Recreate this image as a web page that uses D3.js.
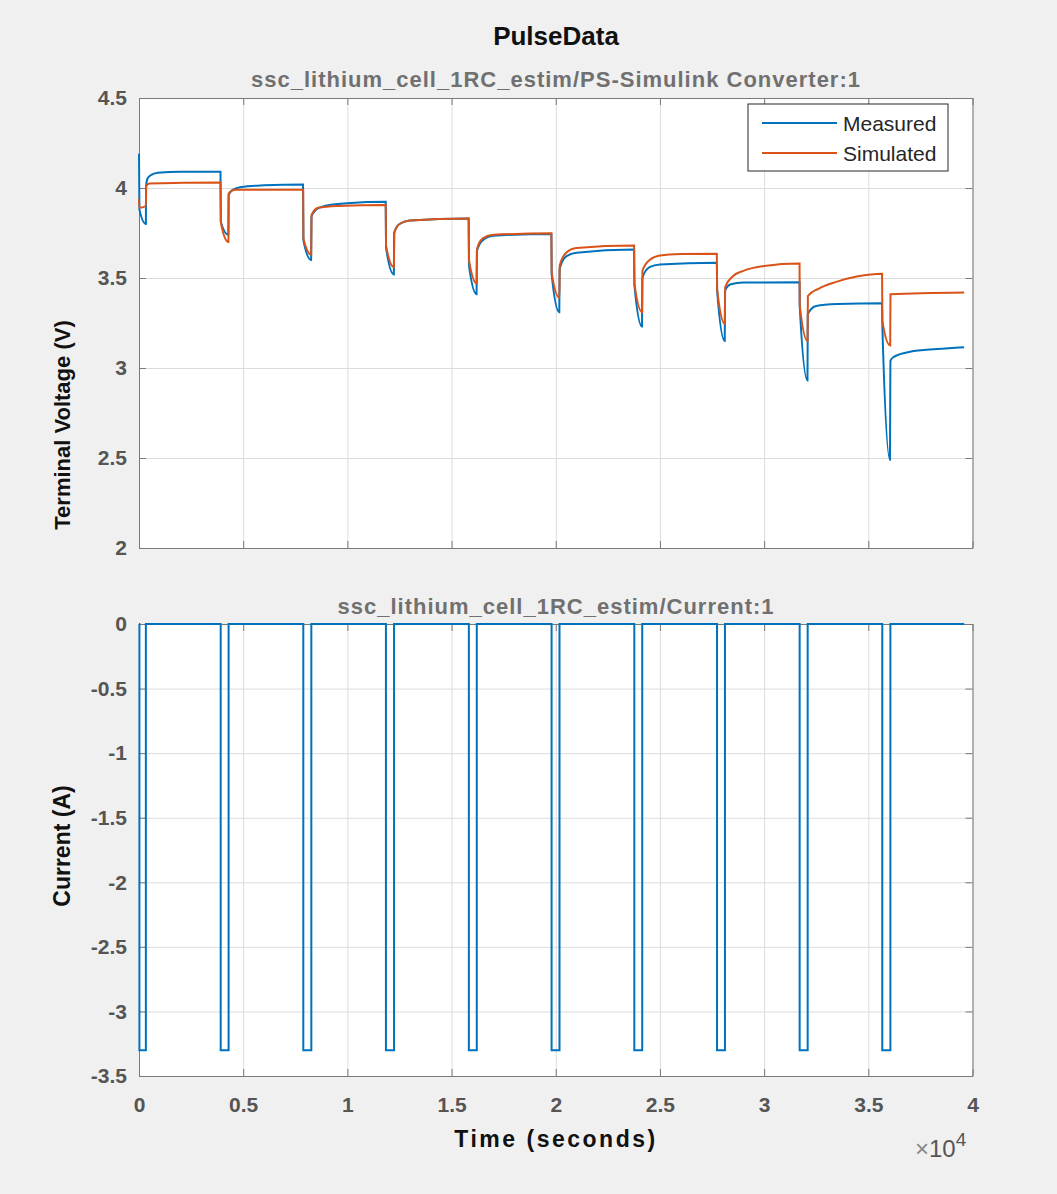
<!DOCTYPE html>
<html>
<head>
<meta charset="utf-8">
<script src="https://cdn.jsdelivr.net/npm/d3@7"></script>
<style>
  body { margin: 0; background: #f0f0f0; }
  svg { font-family: "Liberation Sans", Arial, Helvetica, sans-serif; }
  .tick text { fill: #555; font-weight: bold; font-size: 21px; }
  .axis path, .axis line { stroke: #7a7a7a; }
  .grid line { stroke: #dcdcdc; }
  .grid path { display: none; }
</style>
</head>
<body>
<div id="chart"></div>
<script>
// pulse timing (seconds)
var pulseStart = [20, 3920, 7885, 11850, 15830, 19800, 23770, 27740, 31705, 35670];
var pulseEnd   = [330, 4300, 8270, 12240, 16210, 20180, 24150, 28120, 32090, 36060];
var pulseCurrent = -3.3;
var endTime = 39600;

// terminal voltage [time, volts]
var measured = [
    [0, 4.19], [20, 3.88], [330, 3.80], [340, 4.01], [400, 4.05], [550, 4.07], [900, 4.085], [2000, 4.09], [3910, 4.09],
    [3930, 3.81], [4290, 3.74], [4300, 3.96], [4500, 3.99], [4900, 4.006], [6000, 4.015], [7870, 4.02],
    [7890, 3.71], [8260, 3.60], [8275, 3.84], [8500, 3.88], [8900, 3.90], [10000, 3.915], [11840, 3.923],
    [11855, 3.67], [12230, 3.52], [12245, 3.75], [12500, 3.80], [13000, 3.82], [15820, 3.83],
    [15835, 3.57], [16200, 3.41], [16215, 3.65], [16500, 3.71], [17000, 3.735], [19790, 3.745],
    [19805, 3.52], [20170, 3.31], [20185, 3.55], [20500, 3.62], [21000, 3.64], [23760, 3.658],
    [23775, 3.46], [24140, 3.23], [24155, 3.50], [24500, 3.56], [25000, 3.575], [27730, 3.585],
    [27745, 3.43], [28110, 3.15], [28125, 3.43], [28400, 3.465], [29000, 3.475], [31700, 3.476],
    [31710, 3.34], [32080, 2.93], [32095, 3.30], [32500, 3.345], [33500, 3.355], [35660, 3.36],
    [35675, 3.23], [36040, 2.49], [36060, 3.04], [36200, 3.06], [37000, 3.09], [38300, 3.105], [39600, 3.115]
];

var simulated = [
    [0, 3.94], [20, 3.89], [330, 3.90], [345, 4.01], [500, 4.025], [3910, 4.03],
    [3925, 3.81], [4290, 3.70], [4305, 3.97], [4600, 3.99], [7880, 3.99],
    [7890, 3.72], [8265, 3.63], [8280, 3.85], [8600, 3.89], [9500, 3.90], [11840, 3.905],
    [11855, 3.68], [12235, 3.56], [12250, 3.75], [12500, 3.80], [13000, 3.82], [15820, 3.83],
    [15835, 3.60], [16205, 3.47], [16220, 3.66], [16500, 3.72], [17000, 3.74], [19790, 3.748],
    [19805, 3.53], [20175, 3.39], [20190, 3.57], [20500, 3.64], [21000, 3.667], [23760, 3.68],
    [23775, 3.47], [24145, 3.31], [24160, 3.54], [24500, 3.60], [25000, 3.625], [26000, 3.633], [27730, 3.635],
    [27745, 3.44], [28115, 3.245], [28130, 3.45], [28500, 3.51], [29000, 3.54], [30000, 3.567], [31700, 3.58],
    [31710, 3.35], [32085, 3.15], [32100, 3.40], [32600, 3.44], [33500, 3.48], [34500, 3.51], [35660, 3.524],
    [35675, 3.26], [36050, 3.125], [36065, 3.41], [39600, 3.42]
];

var xTicks = [0, 5000, 10000, 15000, 20000, 25000, 30000, 35000, 40000];
var voltTicks = [2, 2.5, 3, 3.5, 4, 4.5];
var currentTicks = [-3.5, -3, -2.5, -2, -1.5, -1, -0.5, 0];

var width = 1057,
    height = 1194,
    blue = "#0072BD",
    orange = "#D95319";

// current trace as a square wave from the pulse table
var current = [[0, 0]];
pulseStart.forEach((s, i) => {
    current.push([s, 0], [s, pulseCurrent], [pulseEnd[i], pulseCurrent], [pulseEnd[i], 0]);
});
current.push([endTime, 0]);

var svg = d3.select("#chart")
    .append("svg")
    .attr("width", width)
    .attr("height", height);

svg.append("rect")
    .attr("width", width)
    .attr("height", height)
    .attr("fill", "#f0f0f0");

var x = d3.scaleLinear().domain([0, 40000]).range([139, 972.5]);
var yV = d3.scaleLinear().domain([2, 4.5]).range([548, 98]);
var yI = d3.scaleLinear().domain([-3.5, 0]).range([1076, 624]);

let fmt = d => String(d);

let drawPanel = (y, yTicks, showX) => {
    let [y0, y1] = y.range();  // bottom, top
    let [x0, x1] = x.range();
    let g = svg.append("g");

    g.append("rect")
        .attr("x", x0).attr("y", y1)
        .attr("width", x1 - x0).attr("height", y0 - y1)
        .attr("fill", "#fff");

    // grid
    g.append("g").attr("class", "grid")
        .attr("transform", `translate(0, ${y0})`)
        .call(d3.axisBottom(x).tickValues(xTicks).tickSize(-(y0 - y1)).tickFormat(""));
    g.append("g").attr("class", "grid")
        .attr("transform", `translate(${x0}, 0)`)
        .call(d3.axisLeft(y).tickValues(yTicks).tickSize(-(x1 - x0)).tickFormat(""));

    // box with inward ticks on all sides
    g.append("g").attr("class", "axis")
        .attr("transform", `translate(0, ${y0})`)
        .call(d3.axisBottom(x).tickValues(xTicks).tickSizeInner(-7).tickSizeOuter(0)
            .tickPadding(21).tickFormat(showX ? (d => fmt(d / 1e4)) : ""));
    g.append("g").attr("class", "axis")
        .attr("transform", `translate(0, ${y1})`)
        .call(d3.axisTop(x).tickValues(xTicks).tickSizeInner(-7).tickSizeOuter(0).tickFormat(""));
    g.append("g").attr("class", "axis")
        .attr("transform", `translate(${x0}, 0)`)
        .call(d3.axisLeft(y).tickValues(yTicks).tickSizeInner(-7).tickSizeOuter(0)
            .tickPadding(12).tickFormat(fmt));
    g.append("g").attr("class", "axis")
        .attr("transform", `translate(${x1}, 0)`)
        .call(d3.axisRight(y).tickValues(yTicks).tickSizeInner(-7).tickSizeOuter(0).tickFormat(""));

    g.selectAll(".axis .tick text").attr("fill", "#555");
    return g;
};

let voltPanel = drawPanel(yV, voltTicks, false);
let currentPanel = drawPanel(yI, currentTicks, true);

let line = (y) => d3.line()
    .x(d => x(d[0]))
    .y(d => y(d[1]))
    .curve(d3.curveMonotoneX);

voltPanel.append("path")
    .datum(measured)
    .attr("fill", "none")
    .attr("stroke", blue)
    .attr("stroke-width", 2)
    .attr("d", line(yV));

voltPanel.append("path")
    .datum(simulated)
    .attr("fill", "none")
    .attr("stroke", orange)
    .attr("stroke-width", 2)
    .attr("d", line(yV));

currentPanel.append("path")
    .datum(current)
    .attr("fill", "none")
    .attr("stroke", blue)
    .attr("stroke-width", 2)
    .attr("d", d3.line().x(d => x(d[0])).y(d => yI(d[1])));

// Legend
let legend = svg.append("g");
legend.append("rect")
    .attr("x", 748).attr("y", 104)
    .attr("width", 200).attr("height", 67)
    .attr("fill", "#fff")
    .attr("stroke", "#262626")
    .attr("stroke-width", 1);
[["Measured", blue, 123], ["Simulated", orange, 153]].forEach(([name, color, ly]) => {
    legend.append("line")
        .attr("x1", 762).attr("x2", 837)
        .attr("y1", ly).attr("y2", ly)
        .attr("stroke", color).attr("stroke-width", 2);
    legend.append("text")
        .attr("x", 843).attr("y", ly + 8)
        .attr("font-size", "21px")
        .attr("fill", "#262626")
        .text(name);
});

// Titles
svg.append("text")
    .attr("x", 556).attr("y", 45)
    .attr("text-anchor", "middle")
    .attr("font-size", "26px")
    .attr("font-weight", "bold")
    .attr("fill", "#111")
    .text("PulseData");

svg.append("text")
    .attr("x", 556).attr("y", 87)
    .attr("text-anchor", "middle")
    .attr("font-size", "22px")
    .attr("font-weight", "bold")
    .attr("letter-spacing", "1px")
    .attr("fill", "#707070")
    .text("ssc_lithium_cell_1RC_estim/PS-Simulink Converter:1");

svg.append("text")
    .attr("x", 556).attr("y", 614)
    .attr("text-anchor", "middle")
    .attr("font-size", "22px")
    .attr("font-weight", "bold")
    .attr("letter-spacing", "1px")
    .attr("fill", "#707070")
    .text("ssc_lithium_cell_1RC_estim/Current:1");

// Axis labels
svg.append("text")
    .attr("transform", "translate(70, 425) rotate(-90)")
    .attr("text-anchor", "middle")
    .attr("font-size", "22px")
    .attr("font-weight", "bold")
    .attr("fill", "#111")
    .text("Terminal Voltage (V)");

svg.append("text")
    .attr("transform", "translate(70, 846) rotate(-90)")
    .attr("text-anchor", "middle")
    .attr("font-size", "23px")
    .attr("font-weight", "bold")
    .attr("fill", "#111")
    .text("Current (A)");

svg.append("text")
    .attr("x", 556).attr("y", 1147)
    .attr("text-anchor", "middle")
    .attr("font-size", "23px")
    .attr("font-weight", "bold")
    .attr("letter-spacing", "2.5px")
    .attr("fill", "#111")
    .text("Time (seconds)");

let exp = svg.append("text")
    .attr("x", 915).attr("y", 1157)
    .attr("font-size", "24px")
    .attr("fill", "#555");
exp.append("tspan").attr("fill", "#888").text("×");
exp.append("tspan").text("10");
exp.append("tspan").attr("dy", -11).attr("font-size", "19px").text("4");
</script>
</body>
</html>
